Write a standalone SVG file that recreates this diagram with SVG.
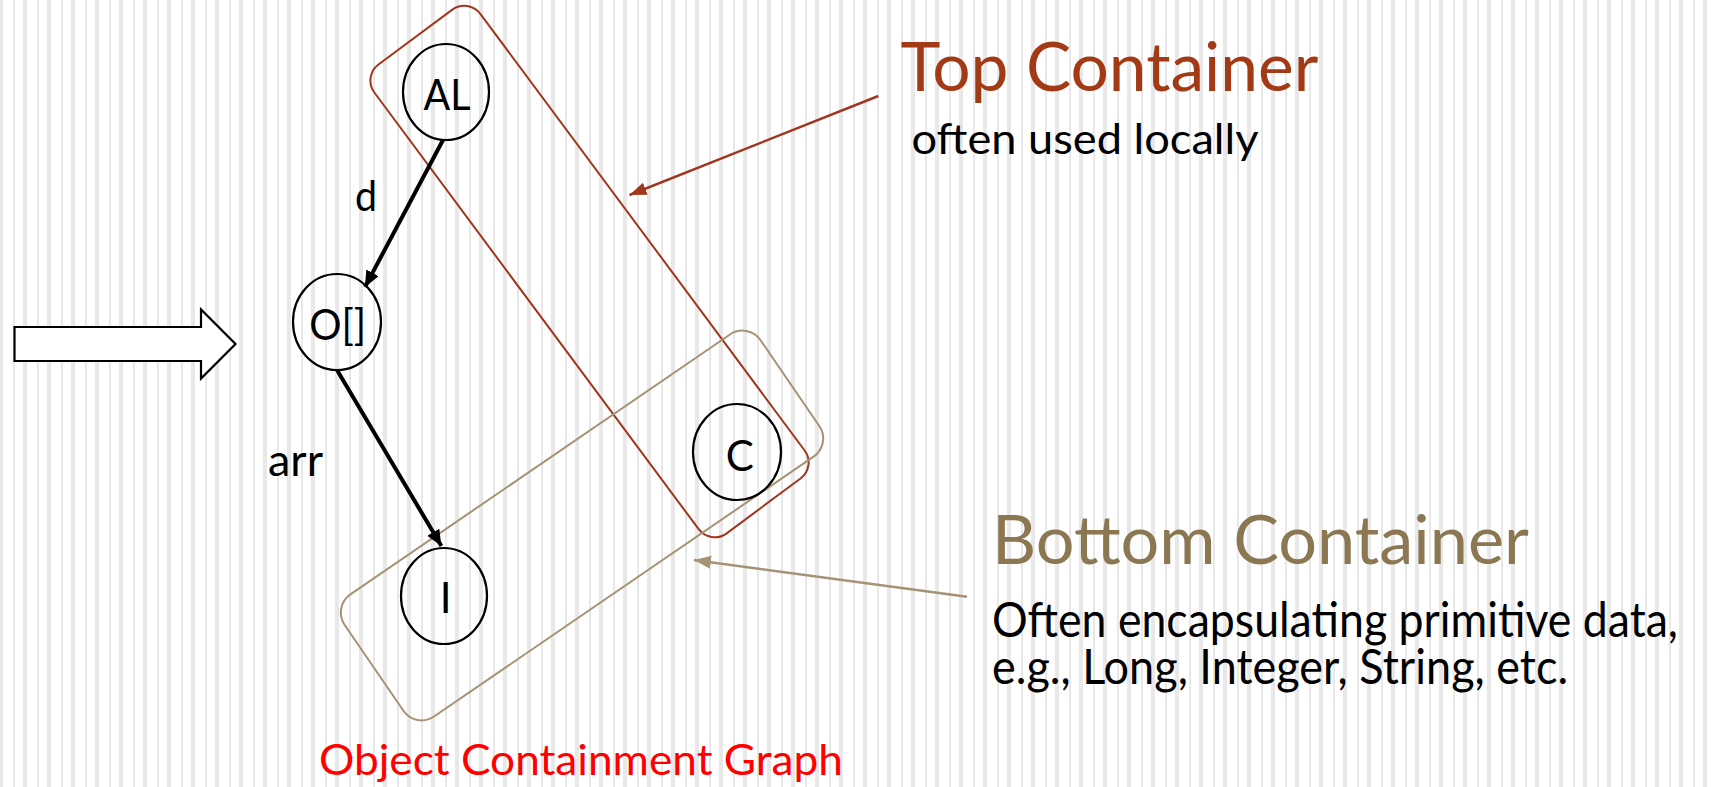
<svg xmlns="http://www.w3.org/2000/svg" width="1711" height="787" viewBox="0 0 1711 787">
<style>
.node{fill:none;stroke:#000;stroke-width:2.2}
.lbl{font-family:Lato,"Open Sans",sans-serif;fill:#000;text-anchor:middle}
.edge{fill:none;stroke:#000;stroke-width:4}
.txt{font-family:Lato,"Open Sans",sans-serif}
</style>
<defs>
<pattern id="stripes" patternUnits="userSpaceOnUse" x="23" y="0" width="24" height="10">
<rect x="0" y="0" width="4" height="10" fill="#e8e8e8"/>
<rect x="14" y="0" width="2" height="10" fill="#e8e8e8"/>
</pattern>
<marker id="ah" markerUnits="userSpaceOnUse" markerWidth="17" markerHeight="15" refX="16" refY="7" orient="auto">
<path d="M0,0 L16,7 L0,14 z" fill="#000"/>
</marker>
<marker id="ahRed" markerUnits="userSpaceOnUse" markerWidth="18" markerHeight="14" refX="17" refY="6.5" orient="auto">
<path d="M0,0 L17,6.5 L0,13 z" fill="#a0361e"/>
</marker>
<marker id="ahTan" markerUnits="userSpaceOnUse" markerWidth="18" markerHeight="14" refX="17" refY="6.5" orient="auto">
<path d="M0,0 L17,6.5 L0,13 z" fill="#a69275"/>
</marker>
</defs>
<rect x="0" y="0" width="1711" height="787" fill="#fff"/>
<rect x="0" y="0" width="1711" height="787" fill="url(#stripes)"/>

<g id="big-arrow">
<polygon points="14.5,327 201,327 201,309.5 235.5,344 201,378.5 201,361 14.5,361" fill="#fff" stroke="#000" stroke-width="2.2"/>
</g>

<g id="top-container">
<rect x="-292" y="-66" width="584" height="132" rx="20" transform="translate(589.5 271.5) rotate(53.4)" fill="none" stroke="#a0361e" stroke-width="2"/>
</g>
<g id="bottom-container">
<rect x="-252" y="-74" width="504" height="148" rx="22" transform="translate(582 525.5) rotate(-34.4)" fill="none" stroke="#a69275" stroke-width="2"/>
</g>

<g id="node-AL">
<ellipse class="node" cx="446" cy="92" rx="43" ry="48"/>
<text class="lbl" x="447" y="110" font-size="42" textLength="47" lengthAdjust="spacingAndGlyphs">AL</text>
</g>
<g id="node-O">
<ellipse class="node" cx="337" cy="322" rx="44" ry="48"/>
<text class="lbl" x="337.7" y="340" font-size="42" textLength="57" lengthAdjust="spacingAndGlyphs">O[]</text>
</g>
<g id="node-C">
<ellipse class="node" cx="737" cy="452" rx="44" ry="48"/>
<text class="lbl" x="739.7" y="470.7" font-size="42">C</text>
</g>
<g id="node-I">
<ellipse class="node" cx="444" cy="596" rx="43" ry="48"/>
<text class="lbl" x="445.7" y="613.3" font-size="42">I</text>
</g>

<g id="connectors">
<path class="edge" d="M443,140 L365,287" marker-end="url(#ah)"/>
<path class="edge" d="M337,370 L441.4,546" marker-end="url(#ah)"/>
<text class="txt" x="355" y="210.5" font-size="42" textLength="22" lengthAdjust="spacingAndGlyphs">d</text>
<text class="txt" x="268" y="476" font-size="44" textLength="55" lengthAdjust="spacingAndGlyphs">arr</text>
<path d="M878.3,96 L629.5,195" fill="none" stroke="#a0361e" stroke-width="2.5" marker-end="url(#ahRed)"/>
<path d="M967,596.7 L694,560" fill="none" stroke="#a69275" stroke-width="2.5" marker-end="url(#ahTan)"/>
</g>

<g id="labels">
<text class="txt" x="900.5" y="91" font-size="67" fill="#a33a16" textLength="418" lengthAdjust="spacingAndGlyphs">Top Container</text>
<text class="txt" x="911.5" y="153.5" font-size="43" fill="#000" textLength="347" lengthAdjust="spacingAndGlyphs">often used locally</text>
<text class="txt" x="992" y="564" font-size="68" fill="#8b7852" textLength="537" lengthAdjust="spacingAndGlyphs">Bottom Container</text>
<text class="txt" x="992" y="636.5" font-size="48" fill="#000" textLength="686" lengthAdjust="spacingAndGlyphs">Often encapsulating primitive data,</text>
<text class="txt" x="992" y="683.5" font-size="48" fill="#000" textLength="576" lengthAdjust="spacingAndGlyphs">e.g., Long, Integer, String, etc.</text>
<text class="txt" x="319" y="775" font-size="42" fill="#ff0000" textLength="524" lengthAdjust="spacingAndGlyphs">Object Containment Graph</text>
</g>
</svg>
